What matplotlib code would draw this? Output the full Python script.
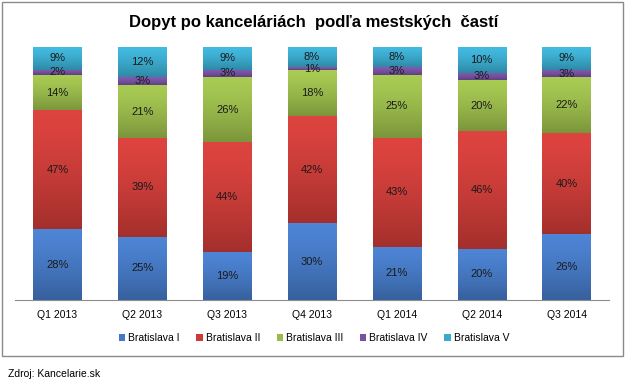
import matplotlib.pyplot as plt
import matplotlib.colors as mcolors
import numpy as np
from matplotlib.patches import Rectangle

plt.rcParams['font.family'] = ['Liberation Sans', 'DejaVu Sans']

# data (percent shares)
quarters = ['Q1 2013', 'Q2 2013', 'Q3 2013', 'Q4 2013', 'Q1 2014', 'Q2 2014', 'Q3 2014']
districts = ['Bratislava I', 'Bratislava II', 'Bratislava III', 'Bratislava IV', 'Bratislava V']
ba1 = [28, 25, 19, 30, 21, 20, 26]
ba2 = [47, 39, 44, 42, 43, 46, 40]
ba3 = [14, 21, 26, 18, 25, 20, 22]
ba4 = [2, 3, 3, 1, 3, 3, 3]
ba5 = [9, 12, 9, 8, 8, 10, 9]
colors = ['#4478c4', '#cc3b37', '#9abb4a', '#7650a2', '#3aabcf']

values = np.array([ba1, ba2, ba3, ba4, ba5], dtype=float)
shares = values / values.sum(axis=0) * 100  # 100% stacked

fig = plt.figure(figsize=(6.27, 3.82), dpi=100)
ax = fig.add_axes([15 / 627, 82 / 382, 594 / 627, 253 / 382])

x = np.arange(len(quarters))
bottom = np.zeros(len(quarters))
width = 0.57
for i, name in enumerate(districts):
    bars = ax.bar(x, shares[i], width, bottom=bottom, color=colors[i], label=name,
                  edgecolor='none')
    # vertical gradient on each segment, Excel style (lighter top, darker bottom)
    base = np.array(mcolors.to_rgb(colors[i]))
    light = np.clip(base * 1.06 + 0.02, 0, 1)
    dark = base * 0.8
    grad = np.linspace(0, 1, 64)[:, None, None] ** 1.4
    img = light * (1 - grad) + dark * grad
    for b in bars:
        im = ax.imshow(img, extent=(b.get_x(), b.get_x() + b.get_width(),
                                    b.get_y(), b.get_y() + b.get_height()),
                       aspect='auto', origin='upper', zorder=2)
        im.set_clip_path(b)
    for xi, v, bt, s in zip(x, values[i], bottom, shares[i]):
        ax.text(xi, bt + s / 2, f'{int(v)}%', ha='center', va='center',
                fontsize=8, color='#1a1a1a', zorder=3)
    bottom += shares[i]

ax.set_xlim(-0.5, 6.5)
ax.set_ylim(0, 100)
ax.set_xticks(x)
ax.set_xticklabels(quarters, fontsize=7.5)
ax.tick_params(axis='x', length=0, pad=7)
ax.set_yticks([])
for side in ['top', 'left', 'right']:
    ax.spines[side].set_visible(False)
ax.spines['bottom'].set_color('#8c8c8c')
ax.spines['bottom'].set_linewidth(0.8)

leg = fig.legend(loc='center', bbox_to_anchor=(314 / 627, 1 - 338 / 382), ncol=5,
                 frameon=False, fontsize=7.5, handlelength=0.6, handleheight=0.6,
                 handletextpad=0.3, columnspacing=1.6)

fig.text(0.5, 1 - 22 / 382, 'Dopyt po kanceláriách  podľa mestských  častí',
         ha='center', va='center', fontsize=12, fontweight='bold')
fig.text(8 / 627, 1 - 374 / 382, 'Zdroj: Kancelarie.sk', ha='left', va='center',
         fontsize=7.5)

# outer chart frame
fig.patches.append(Rectangle((2 / 627, 1 - 356 / 382), 621 / 627, 354 / 382,
                             transform=fig.transFigure, fill=False,
                             edgecolor='#8a8a8a', linewidth=1))

fig.savefig('out.png', dpi=100)
